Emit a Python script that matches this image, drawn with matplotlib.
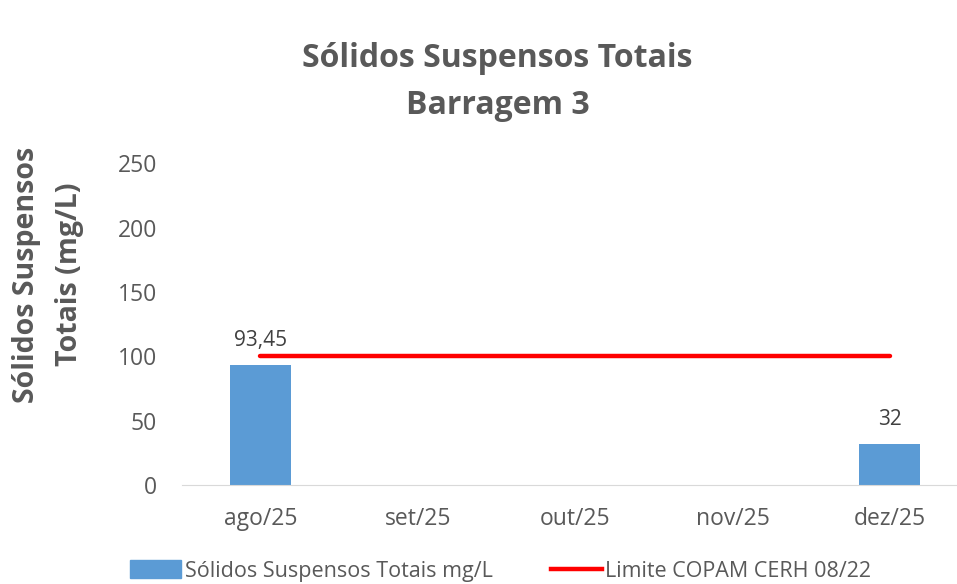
import matplotlib.pyplot as plt
from matplotlib.lines import Line2D
from matplotlib.patches import Patch

plt.rcParams['font.family'] = ['Open Sans', 'DejaVu Sans']

# data
meses = ['ago/25', 'set/25', 'out/25', 'nov/25', 'dez/25']
sst = [93.45, None, None, None, 32]
limite = [100, 100, 100, 100, 100]
rotulos = ['93,45', None, None, None, '32']

cinza = '#595959'
azul = '#5b9bd5'
vermelho = '#ff0000'

fig = plt.figure(figsize=(9.57, 5.84), dpi=100)
ax = fig.add_axes([0.190, 0.1695, 0.822, 0.551])

x = list(range(len(meses)))
for i, v in enumerate(sst):
    if v is None:
        continue
    ax.bar(i, v, width=0.39, color=azul, zorder=2)
    ax.annotate(rotulos[i], (i, v), xytext=(0, 10), textcoords='offset points',
                ha='center', va='bottom', fontsize=15, color='#404040')

ax.plot(x, limite, color=vermelho, lw=3.2, solid_capstyle='round', zorder=3)

ax.set_xlim(-0.5, 4.5)
ax.set_ylim(0, 250)
ax.set_yticks([0, 50, 100, 150, 200, 250])
ax.set_xticks(x)
ax.set_xticklabels(meses)
ax.tick_params(axis='both', length=0, labelsize=16.5, labelcolor=cinza)
ax.tick_params(axis='y', pad=18)
ax.tick_params(axis='x', pad=16)
for s in ['top', 'right', 'left']:
    ax.spines[s].set_visible(False)
ax.spines['bottom'].set_color('#d9d9d9')

fig.text(0.028, 0.53, 'Sólidos Suspensos', rotation=90, ha='center', va='center',
         fontsize=20.5, fontweight='bold', color=cinza)
fig.text(0.073, 0.53, 'Totais (mg/L)', rotation=90, ha='center', va='center',
         fontsize=20.5, fontweight='bold', color=cinza)

fig.text(0.52, 0.90, 'Sólidos Suspensos Totais', ha='center', va='center',
         fontsize=23, fontweight='bold', color=cinza)
fig.text(0.52, 0.82, 'Barragem 3', ha='center', va='center',
         fontsize=23, fontweight='bold', color=cinza)

handles = [Patch(color=azul), Line2D([0], [0], color=vermelho, lw=3.2)]
fig.legend(handles, ['Sólidos Suspensos Totais mg/L', 'Limite COPAM CERH 08/22'],
           loc='center', bbox_to_anchor=(0.523, 0.022), ncol=2, frameon=False,
           fontsize=15.5, labelcolor=cinza, handlelength=2.4, handletextpad=0.15,
           columnspacing=2.7, handleheight=0.9)

fig.savefig('out.png', dpi=100)
